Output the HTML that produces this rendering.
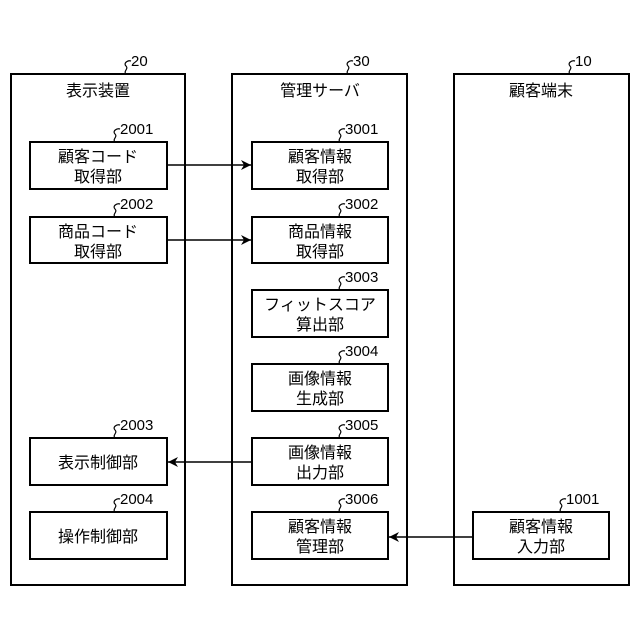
<!DOCTYPE html>
<html><head><meta charset="utf-8"><style>body{margin:0;background:#fff}svg{display:block}text{font-family:"Liberation Sans","Noto Sans CJK JP",sans-serif;fill:#000}</style></head>
<body>
<svg width="640" height="640" viewBox="0 0 640 640" xmlns="http://www.w3.org/2000/svg">
<defs>
<marker id="a" viewBox="0 0 10 10" refX="10" refY="5" markerWidth="10" markerHeight="10" markerUnits="userSpaceOnUse" orient="auto"><path d="M0,0 L10,5 L0,10 L3,5 z" fill="#000"/></marker>
<path id="sq" d="M0,0 C-3,-3 3,-5 0,-8 C-3,-11 2,-14 5,-13" fill="none" stroke="#000" stroke-width="1.2"/>
</defs>
<g fill="none" stroke="#000" stroke-width="2">
<rect x="11" y="74" width="174" height="511"/>
<rect x="232" y="74" width="175" height="511"/>
<rect x="454" y="74" width="175" height="511"/>
<rect x="30" y="142" width="137" height="47"/>
<rect x="30" y="217" width="137" height="46"/>
<rect x="30" y="438" width="137" height="47"/>
<rect x="30" y="512" width="137" height="47"/>
<rect x="252" y="142" width="136" height="47"/>
<rect x="252" y="217" width="136" height="46"/>
<rect x="252" y="290" width="136" height="47"/>
<rect x="252" y="364" width="136" height="47"/>
<rect x="252" y="438" width="136" height="47"/>
<rect x="252" y="512" width="136" height="47"/>
<rect x="473" y="512" width="136" height="47"/>
</g>
<g stroke="#000" stroke-width="1.6" fill="none">
<line x1="167" y1="165" x2="251" y2="165" marker-end="url(#a)"/>
<line x1="167" y1="240" x2="251" y2="240" marker-end="url(#a)"/>
<line x1="252" y1="462" x2="168" y2="462" marker-end="url(#a)"/>
<line x1="473" y1="537" x2="389" y2="537" marker-end="url(#a)"/>
</g>
<use href="#sq" x="126" y="74"/><use href="#sq" x="348" y="74"/><use href="#sq" x="570" y="74"/>
<use href="#sq" x="115" y="142"/><use href="#sq" x="115" y="217"/><use href="#sq" x="115" y="438"/><use href="#sq" x="115" y="512"/>
<use href="#sq" x="340" y="142"/><use href="#sq" x="340" y="217"/><use href="#sq" x="340" y="290"/><use href="#sq" x="340" y="364"/><use href="#sq" x="340" y="438"/><use href="#sq" x="340" y="512"/>
<use href="#sq" x="561" y="512"/>
<g font-size="15">
<text x="131" y="66">20</text><text x="353" y="66">30</text><text x="575" y="66">10</text>
<text x="120" y="134">2001</text><text x="120" y="209">2002</text><text x="120" y="430">2003</text><text x="120" y="504">2004</text>
<text x="345" y="134">3001</text><text x="345" y="209">3002</text><text x="345" y="282">3003</text><text x="345" y="356">3004</text><text x="345" y="430">3005</text><text x="345" y="504">3006</text>
<text x="566" y="504">1001</text>
</g>
<g font-size="16" text-anchor="middle">
<text x="98" y="96">表示装置</text><text x="320" y="96">管理サーバ</text><text x="541" y="96">顧客端末</text>
<text x="98" y="162">顧客コード</text><text x="98" y="182">取得部</text>
<text x="98" y="237">商品コード</text><text x="98" y="257">取得部</text>
<text x="98" y="468">表示制御部</text>
<text x="98" y="542">操作制御部</text>
<text x="320" y="162">顧客情報</text><text x="320" y="182">取得部</text>
<text x="320" y="237">商品情報</text><text x="320" y="257">取得部</text>
<text x="320" y="310">フィットスコア</text><text x="320" y="330">算出部</text>
<text x="320" y="384">画像情報</text><text x="320" y="404">生成部</text>
<text x="320" y="458">画像情報</text><text x="320" y="478">出力部</text>
<text x="320" y="532">顧客情報</text><text x="320" y="552">管理部</text>
<text x="541" y="532">顧客情報</text><text x="541" y="552">入力部</text>
</g>
</svg>
</body></html>
